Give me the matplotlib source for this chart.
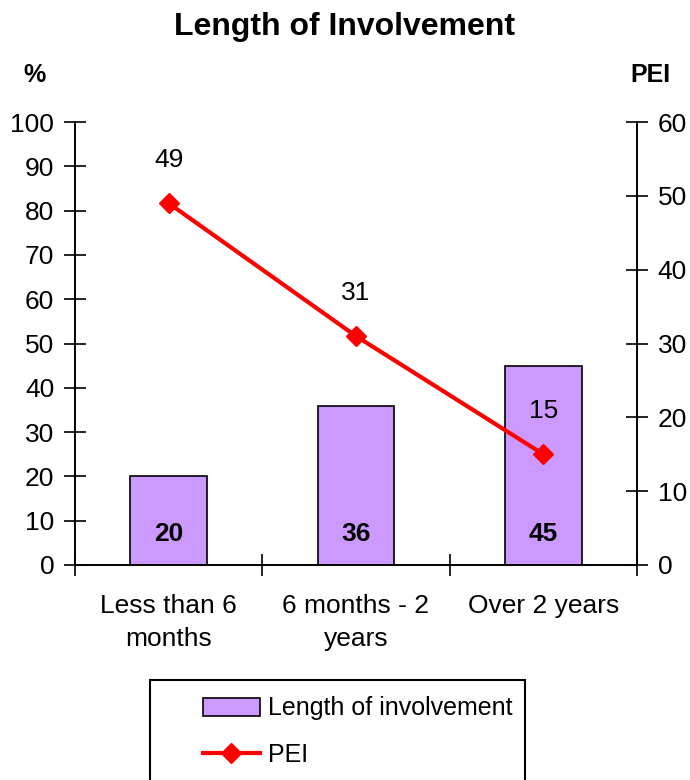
import matplotlib.pyplot as plt
import matplotlib.patches as mpatches
from matplotlib.lines import Line2D
import numpy as np

plt.rcParams['font.family'] = ['Liberation Sans', 'DejaVu Sans']

# Data
categories = ['Less than 6\nmonths', '6 months - 2\nyears', 'Over 2 years']
length_pct = [20, 36, 45]
pei_values = [49, 31, 15]

bar_color = '#CC99FF'
line_color = '#FF0000'

fig = plt.figure(figsize=(6.9, 7.8), dpi=100)
ax = fig.add_axes([75 / 690, 1 - 565 / 780, (637 - 75) / 690, (565 - 122) / 780])
ax2 = ax.twinx()

x = np.arange(len(categories))

# Bars (left axis, %)
ax.bar(x, length_pct, width=0.41, color=bar_color, edgecolor='black', linewidth=1.2, zorder=2)
for xi, v in zip(x, length_pct):
    ax.text(xi, 7, str(v), ha='center', va='center', fontsize=19, fontweight='bold', zorder=3)

# PEI line (right axis)
ax2.plot(x, pei_values, color=line_color, linewidth=3, marker='D', markersize=10, zorder=4)
for xi, v in zip(x, pei_values):
    ax2.text(xi, v + 5.8, str(v), ha='center', va='center', fontsize=19)

ax.set_xlim(-0.5, 2.5)
ax.set_ylim(0, 100)
ax2.set_ylim(0, 60)
ax.set_yticks(np.arange(0, 101, 10))
ax2.set_yticks(np.arange(0, 61, 10))

# Category labels between boundary ticks
ax.set_xticks([-0.5, 0.5, 1.5, 2.5])
ax.set_xticklabels([])
ax.set_xticks(x, minor=True)
ax.set_xticklabels(categories, minor=True, fontsize=19, linespacing=1.45)
ax.tick_params(axis='x', which='minor', length=0, pad=21)
ax.tick_params(axis='x', which='major', direction='inout', length=16, width=1.2)

ax.tick_params(axis='y', direction='inout', length=16, width=1.2, labelsize=19, pad=7)
ax2.tick_params(axis='y', direction='inout', length=16, width=1.2, labelsize=19, pad=7)

for a in (ax, ax2):
    a.spines['top'].set_visible(False)
    for s in ('left', 'right', 'bottom'):
        a.spines[s].set_linewidth(1.2)

fig.text(0.5, 1 - 27 / 780, 'Length of Involvement', ha='center', va='center',
         fontsize=23, fontweight='bold')
fig.text(35 / 690, 1 - 75 / 780, '%', ha='center', va='center', fontsize=18, fontweight='bold')
fig.text(650 / 690, 1 - 75 / 780, 'PEI', ha='center', va='center', fontsize=18, fontweight='bold')

# Legend box (clipped at bottom edge)
box = mpatches.Rectangle((150 / 690, -0.05), 375 / 690, 0.05 + (780 - 680) / 780,
                         transform=fig.transFigure, facecolor='white', edgecolor='black',
                         linewidth=1.5, clip_on=False)
fig.patches.append(box)
handles = [mpatches.Patch(facecolor=bar_color, edgecolor='black', linewidth=1.2),
           Line2D([], [], color=line_color, linewidth=3, marker='D', markersize=10)]
fig.legend(handles, ['Length of involvement', 'PEI'], loc='upper left',
           bbox_to_anchor=(180 / 690, 1 - 674 / 780), frameon=False, fontsize=18,
           handlelength=2.3, handletextpad=0.3, labelspacing=0.9)

fig.savefig('out.png', dpi=100)
